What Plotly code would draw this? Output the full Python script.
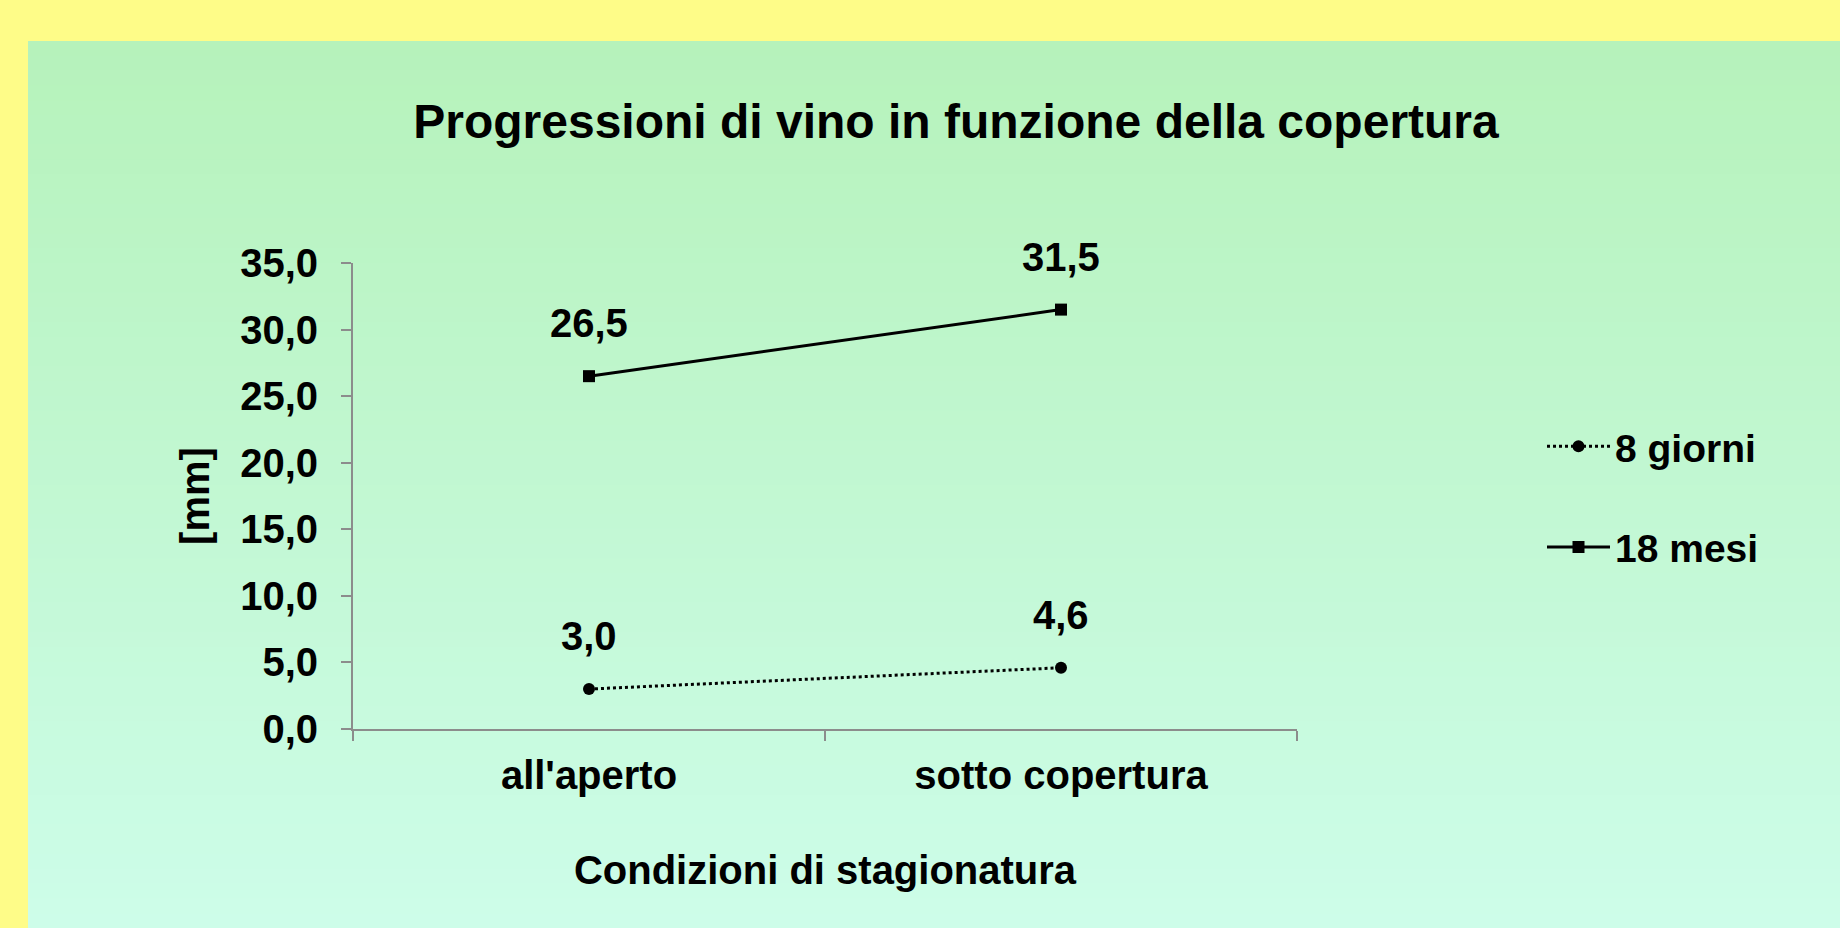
import plotly.graph_objects as go

# ---- data ----
categories = ["all'aperto", "sotto copertura"]
giorni8 = [3.0, 4.6]
mesi18 = [26.5, 31.5]
series_names = ["8 giorni", "18 mesi"]
y_ticks = [0, 5, 10, 15, 20, 25, 30, 35]
title_text = "Progressioni di vino in funzione della copertura"
x_title = "Condizioni di stagionatura"
y_title = "[mm]"

W, H = 1840, 928
L, R, T, B = 353, 1297, 263, 729  # plot area in pixels
FONT = "Liberation Sans, Arial, sans-serif"


def px_x(px):
    return (px - L) / (R - L)


def px_y(py):
    return (B - py) / (B - T)


fig = go.Figure()

fig.add_trace(go.Scatter(
    x=categories, y=giorni8, name=series_names[0], mode="lines+markers",
    line=dict(color="black", width=3, dash="3px,3px"),
    marker=dict(symbol="circle", size=12, color="black"),
    legendgroup="a", cliponaxis=False,
))
fig.add_trace(go.Scatter(
    x=categories, y=mesi18, name=series_names[1], mode="lines+markers",
    line=dict(color="black", width=3),
    marker=dict(symbol="square", size=12, color="black"),
    legendgroup="b", cliponaxis=False,
))

# data labels
for ys in (giorni8, mesi18):
    for c, v in zip(categories, ys):
        fig.add_annotation(
            x=c, y=v, text=f"{v:.1f}".replace(".", ","), showarrow=False,
            yshift=53, yanchor="middle", xanchor="center",
            font=dict(family=FONT, size=40, color="black", weight="bold"),
        )

# gradient green panel (strips)
top_c = (0xB6, 0xF2, 0xBB)
bot_c = (0xCD, 0xFD, 0xE9)
gx0, gy0, gx1, gy1 = 28, 41, W, H
N = 60
shapes = []
for i in range(N):
    t = i / (N - 1)
    col = tuple(round(top_c[k] + (bot_c[k] - top_c[k]) * t) for k in range(3))
    ya = gy0 + (gy1 - gy0) * i / N
    yb = gy0 + (gy1 - gy0) * (i + 1) / N + 1
    shapes.append(dict(
        type="rect", xref="paper", yref="paper", layer="below",
        x0=px_x(gx0), x1=px_x(gx1 + 2), y0=px_y(min(yb, H + 2)), y1=px_y(ya),
        fillcolor="rgb(%d,%d,%d)" % col, line=dict(width=0),
    ))

axis_col = "#8c8c8c"
fig.update_layout(
    width=W, height=H,
    margin=dict(l=L, r=W - R, t=T, b=H - B, pad=0),
    paper_bgcolor="#FEFC88",
    plot_bgcolor="rgba(0,0,0,0)",
    separators=",.",
    shapes=shapes,
    font=dict(family=FONT, size=40, color="black"),
    title=dict(
        text="<b>" + title_text + "</b>", x=956 / W, xref="container",
        y=1 - 121 / H, yref="container", xanchor="center", yanchor="middle",
        font=dict(family=FONT, size=48, color="black"),
    ),
    xaxis=dict(
        type="category", range=[-0.5, 1.5], showgrid=False, zeroline=False,
        showline=True, linecolor=axis_col, linewidth=2,
        ticks="outside", ticklen=10, tickcolor=axis_col, tickwidth=2,
        tickson="boundaries", ticklabelstandoff=10,
        tickfont=dict(family=FONT, size=40, weight="bold"),
        title=dict(text="<b>" + x_title + "</b>", standoff=60,
                   font=dict(family=FONT, size=40)),
    ),
    yaxis=dict(
        range=[0, 35], tickvals=y_ticks, tickformat=".1f",
        showgrid=False, zeroline=False,
        showline=True, linecolor=axis_col, linewidth=2,
        ticks="outside", ticklen=10, tickcolor=axis_col, tickwidth=2,
        ticklabelstandoff=15,
        tickfont=dict(family=FONT, size=40, weight="bold"),
        title=dict(text="<b>" + y_title + "</b>", standoff=18,
                   font=dict(family=FONT, size=40)),
    ),
    legend=dict(
        x=px_x(1542), y=px_y(497), xanchor="left", yanchor="middle",
        bgcolor="rgba(0,0,0,0)", borderwidth=0,
        font=dict(family=FONT, size=39, weight="bold"),
        itemwidth=63, traceorder="grouped", tracegroupgap=47,
    ),
    showlegend=True,
)

fig.write_html("out.html", config={"displayModeBar": False},
               post_script="document.body.style.margin='0px';")
